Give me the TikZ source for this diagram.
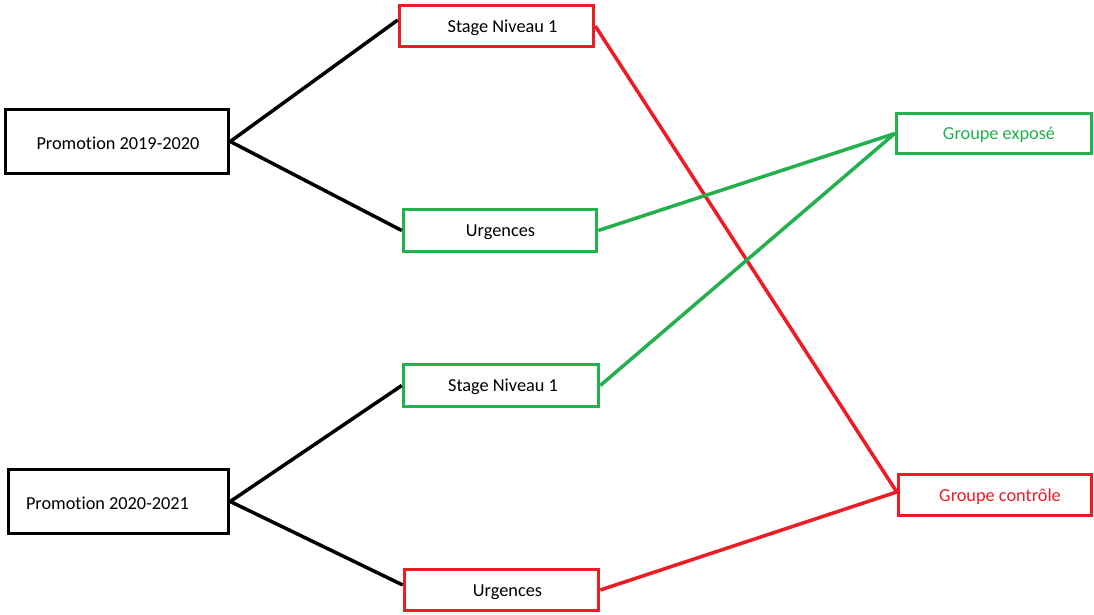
\documentclass[tikz,border=0pt]{standalone}
\usepackage{fontspec}
\setmainfont{Carlito}[Ligatures=NoCommon]
\definecolor{pred}{HTML}{ED1C24}
\definecolor{pgreen}{HTML}{22B14C}
\begin{document}
\begin{tikzpicture}[x=1pt,y=-1pt,
  box/.style={draw=#1,line width=3.5pt,rectangle,inner sep=0pt},
  lbl/.style={inner sep=0pt,font=\fontsize{18.3}{22}\selectfont},
  conn/.style={line width=3.5pt,draw=#1}]
\useasboundingbox (0,0) rectangle (1094,614);
% boxes
\node[box=black,minimum width=223pt,minimum height=64pt] (p1) at (117,141.5) {};
\node[box=black,minimum width=220pt,minimum height=64pt] (p2) at (118.5,501.5) {};
\node[box=pred,minimum width=194pt,minimum height=41pt] (s1) at (496.5,26) {};
\node[box=pgreen,minimum width=193pt,minimum height=42pt] (u1) at (500,230.5) {};
\node[box=pgreen,minimum width=195pt,minimum height=42pt] (s2) at (501,385.5) {};
\node[box=pred,minimum width=194pt,minimum height=41pt] (u2) at (501.5,590) {};
\node[box=pgreen,minimum width=195pt,minimum height=40pt] (ge) at (994,133.5) {};
\node[box=pred,minimum width=193pt,minimum height=41pt] (gc) at (995,495) {};
% labels
\node[lbl] (p1t) at ([xshift=1pt,yshift=-1.5pt]p1.center) {Promotion 2019-2020};
\node[lbl] (p2t) at ([xshift=-11pt,yshift=-1.5pt]p2.center) {Promotion 2020-2021};
\node[lbl] (s1t) at ([xshift=6pt,yshift=-1.5pt]s1.center) {Stage Niveau 1};
\node[lbl] (u1t) at ([xshift=0.5pt,yshift=-2pt]u1.center) {Urgences};
\node[lbl] (s2t) at ([xshift=2pt,yshift=-1.5pt]s2.center) {Stage Niveau 1};
\node[lbl] (u2t) at ([xshift=6pt,yshift=-2pt]u2.center) {Urgences};
\node[lbl,text=pgreen] (get) at ([xshift=5pt,yshift=-1.5pt]ge.center) {Groupe exposé};
\node[lbl,text=pred] (gct) at ([xshift=5pt,yshift=-1.5pt]gc.center) {Groupe contrôle};
% connectors
\draw[conn=black] (p1.east) -- ([yshift=6pt]s1.west);
\draw[conn=black] (p1.east) -- (u1.west);
\draw[conn=black] (p2.east) -- (s2.west);
\draw[conn=black] (p2.east) -- ([yshift=5pt]u2.west);
\draw[conn=pred] (s1.east) -- ([yshift=3pt]gc.west);
\draw[conn=pgreen] (u1.east) -- (ge.west);
\draw[conn=pgreen] (s2.east) -- (ge.west);
\draw[conn=pred] (u2.east) -- ([yshift=3pt]gc.west);
\end{tikzpicture}
\end{document}
